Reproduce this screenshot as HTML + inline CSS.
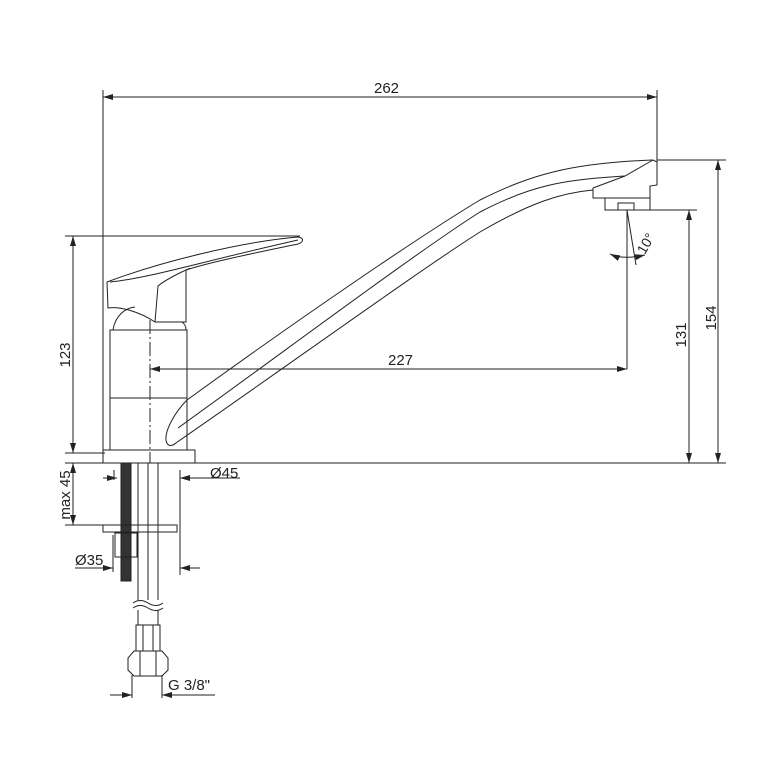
<!DOCTYPE html>
<html><head><style>
html,body{margin:0;padding:0;background:#fff;}
svg{display:block}
text{font-family:"Liberation Sans Narrow","Liberation Sans",sans-serif;font-size:15px;fill:#222;}
</style></head><body>
<svg width="765" height="773" viewBox="0 0 765 773" xmlns="http://www.w3.org/2000/svg">
<defs>
<marker id="a" viewBox="0 0 10 6" refX="10" refY="3" markerWidth="10" markerHeight="6" orient="auto-start-reverse" markerUnits="userSpaceOnUse"><path d="M0,0 L10,3 L0,6z" fill="#222"/></marker>
</defs>
<g stroke="#222" stroke-width="1" fill="none">
<line x1="103" y1="90" x2="103" y2="463"/>
<line x1="657" y1="90" x2="657" y2="162"/>
<line x1="657" y1="160" x2="726" y2="160"/>
<line x1="625" y1="210" x2="697" y2="210"/>
<line x1="190" y1="463" x2="726" y2="463"/>
<line x1="65" y1="236" x2="300" y2="236"/>
<line x1="65" y1="453" x2="105" y2="453"/>
<line x1="65" y1="463" x2="105" y2="463"/>
<line x1="65" y1="525" x2="105" y2="525"/>
<line x1="103" y1="97" x2="657" y2="97" marker-start="url(#a)" marker-end="url(#a)"/>
<line x1="718" y1="160" x2="718" y2="463" marker-start="url(#a)" marker-end="url(#a)"/>
<line x1="689" y1="210" x2="689" y2="463" marker-start="url(#a)" marker-end="url(#a)"/>
<line x1="73" y1="236" x2="73" y2="453" marker-start="url(#a)" marker-end="url(#a)"/>
<line x1="73" y1="463" x2="73" y2="525" marker-start="url(#a)" marker-end="url(#a)"/>
<line x1="150" y1="369" x2="627" y2="369" marker-start="url(#a)" marker-end="url(#a)"/>
<line x1="627" y1="210" x2="627" y2="369"/>
<line x1="627" y1="210" x2="636" y2="265"/>
<path d="M610,254 Q623,260 645,255" marker-start="url(#a)" marker-end="url(#a)"/>
<line x1="103" y1="478" x2="117" y2="478" marker-end="url(#a)"/>
<line x1="180" y1="478" x2="240" y2="478" marker-start="url(#a)"/>
<line x1="180" y1="470" x2="180" y2="575"/>
<line x1="114" y1="470" x2="114" y2="480"/>
<line x1="75" y1="568" x2="113" y2="568" marker-end="url(#a)"/>
<line x1="180" y1="568" x2="200" y2="568" marker-start="url(#a)"/>
<line x1="113" y1="535" x2="113" y2="572"/>
<line x1="110" y1="695" x2="132" y2="695" marker-end="url(#a)"/>
<line x1="162" y1="695" x2="215" y2="695" marker-start="url(#a)"/>
<line x1="132" y1="675" x2="132" y2="698"/>
<line x1="162" y1="675" x2="162" y2="698"/>
<line x1="150" y1="320" x2="150" y2="463" stroke-dasharray="14,3,2,3"/>
<path d="M107,282 C160,262 240,242 298,237 C304,238 304,242 298,244 C260,252 210,262 186,270 L186,322 L155,322 C140,312 120,306 108,308 Z"/>
<path d="M110,282 C150,278 200,262 298,240"/>
<path d="M155,322 L158,286 C170,276 200,264 186,270"/>
<path d="M113,330 C115,316 125,308 135,307 M182,322 C185,324 186,327 186,330"/>
<rect x="110" y="330" width="77" height="68"/>
<rect x="110" y="398" width="77" height="52"/>
<rect x="103" y="450" width="92" height="13"/>
<path d="M187,400 C300,318 420,236 480,200 C530,175 570,163 653,160"/>
<path d="M178,428 C300,340 420,250 480,212 C530,186 560,180 625,176"/>
<path d="M173,445 C300,357 420,270 480,232 C530,203 560,193 593,190"/>
<path d="M187,400 C175,412 165,430 166,440 C167,447 172,446 175,444"/>
<path d="M653,160 L657,162 L657,185 L650,186 L650,198 L593,198 L593,188 L625,176 L653,160"/>
<rect x="605" y="198" width="45" height="12"/>
<rect x="618" y="203" width="16" height="7"/>
<rect x="121" y="463" width="10" height="118" fill="#333"/>
<line x1="138" y1="463" x2="138" y2="600"/>
<line x1="148" y1="463" x2="148" y2="600"/>
<line x1="158" y1="463" x2="158" y2="600"/>
<rect x="103" y="525" width="74" height="7"/>
<rect x="115" y="533" width="22" height="24"/>
<path d="M133,603 Q140,598 148,603 T163,603 M133,608 Q140,603 148,608 T163,608"/>
<line x1="138" y1="610" x2="138" y2="625"/>
<line x1="158" y1="610" x2="158" y2="625"/>
<rect x="136" y="625" width="24" height="26"/>
<line x1="143" y1="625" x2="143" y2="651"/><line x1="153" y1="625" x2="153" y2="651"/>
<path d="M134,651 L162,651 L168,658 L168,670 L162,676 L134,676 L128,670 L128,658 Z"/>
<line x1="140" y1="651" x2="140" y2="676"/><line x1="156" y1="651" x2="156" y2="676"/>
</g>
<text x="374" y="93">262</text>
<text x="388" y="365">227</text>
<text x="210" y="478">Ø45</text>
<text x="75" y="565">Ø35</text>
<text x="168" y="690">G 3/8"</text>
<text transform="translate(716,318) rotate(-90)" text-anchor="middle">154</text>
<text transform="translate(686,335) rotate(-90)" text-anchor="middle">131</text>
<text transform="translate(70,355) rotate(-90)" text-anchor="middle">123</text>
<text transform="translate(70,495) rotate(-90)" text-anchor="middle">max 45</text>
<text transform="translate(650,246) rotate(-60)" text-anchor="middle" style="font-size:14px">10°</text>
</svg>
</body></html>
